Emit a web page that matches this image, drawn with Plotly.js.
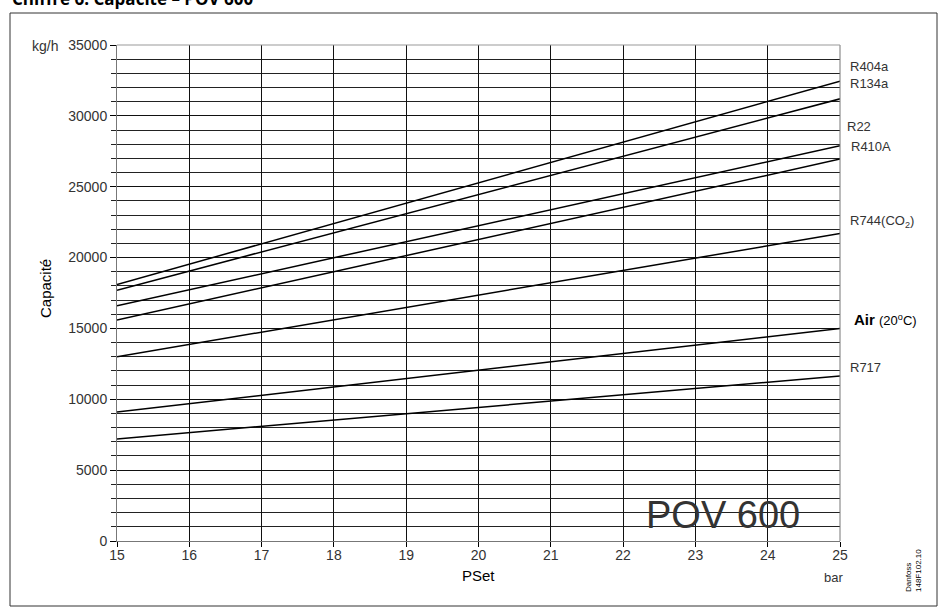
<!DOCTYPE html>
<html>
<head>
<meta charset="utf-8">
<script src="https://cdn.plot.ly/plotly-3.0.1.min.js"></script>
<style>
html,body{margin:0;padding:0;background:#fff;}
#chart{width:938px;height:607px;}
</style>
</head>
<body>
<div id="chart"></div>
<script>
// PSet (bar)
const pset = [15, 25];
// Capacity (kg/h) per refrigerant, read at 15 and 25 bar
const r404a = [18100, 32450];
const r134a = [17700, 31200];
const r22   = [16600, 27900];
const r410a = [15600, 26950];
const r744  = [13000, 21700];
const air   = [9100, 15000];
const r717  = [7200, 11650];

const seriesNames = ['R404a', 'R134a', 'R22', 'R410A', 'R744(CO<sub>2</sub>)', 'Air (20°C)', 'R717'];
const seriesValues = [r404a, r134a, r22, r410a, r744, air, r717];

const xTickVals = [15, 16, 17, 18, 19, 20, 21, 22, 23, 24, 25];
const yTickVals = [0, 5000, 10000, 15000, 20000, 25000, 30000, 35000];

const traces = seriesValues.map((v, i) => ({
  x: pset, y: v, type: 'scatter', mode: 'lines', name: seriesNames[i],
  line: {color: '#000', width: 1.5}, hoverinfo: 'skip'
}));

// pixel -> paper helpers (plot area: x 117..840, y 45..541)
const L = 117, R = 840, T = 45, B = 541;
const px = p => (p - L) / (R - L);
const py = p => (B - p) / (B - T);

const fontBase = 'Liberation Sans, Arial, Helvetica, sans-serif';

const labelDefs = [
  {t: 'R404a', x: 848, y: 66},
  {t: 'R134a', x: 848, y: 83},
  {t: 'R22', x: 845, y: 127},
  {t: 'R410A', x: 849, y: 146},
  {t: 'R744(CO<sub>2</sub>)', x: 848, y: 222},
  {t: '<b>Air</b> <span style="font-size:13px">(20<sup>o</sup>C)</span>', x: 852, y: 319, size: 15, color: '#000'},
  {t: 'R717', x: 848, y: 368}
];

const annotations = labelDefs.map(d => ({
  xref: 'paper', yref: 'paper', x: px(d.x), y: py(d.y),
  xanchor: 'left', yanchor: 'middle', showarrow: false,
  text: d.t, font: {family: fontBase, size: d.size || 13, color: d.color || '#333'}
}));

annotations.push(
  {xref: 'paper', yref: 'paper', x: px(10), y: py(-1), xanchor: 'left', yanchor: 'middle',
   showarrow: false, text: '<b>Chiffre 6. Capacité – POV 600</b>',
   font: {family: 'Open Sans, sans-serif', size: 17, color: '#000'}},
  {xref: 'paper', yref: 'paper', x: px(60), y: py(46), xanchor: 'right', yanchor: 'middle',
   showarrow: false, text: 'kg/h', font: {family: fontBase, size: 14, color: '#333'}},
  {xref: 'paper', yref: 'paper', x: px(45), y: py(289), xanchor: 'center', yanchor: 'middle',
   showarrow: false, text: 'Capacité', textangle: -90, font: {family: fontBase, size: 15, color: '#000'}},
  {xref: 'paper', yref: 'paper', x: px(478), y: py(575), xanchor: 'center', yanchor: 'middle',
   showarrow: false, text: 'PSet', font: {family: fontBase, size: 15, color: '#000'}},
  {xref: 'paper', yref: 'paper', x: px(845), y: py(577), xanchor: 'right', yanchor: 'middle',
   showarrow: false, text: 'bar', font: {family: fontBase, size: 13, color: '#333'}},
  {xref: 'paper', yref: 'paper', x: px(723), y: py(515), xanchor: 'center', yanchor: 'middle',
   showarrow: false, text: 'POV 600', font: {family: fontBase, size: 38, color: '#333'}},
  {xref: 'paper', yref: 'paper', x: px(913), y: py(571), xanchor: 'center', yanchor: 'middle',
   showarrow: false, text: 'Danfoss<br>148F102.10', textangle: -90, align: 'left',
   font: {family: fontBase, size: 8, color: '#000'}}
);

const layout = {
  width: 938, height: 607,
  margin: {l: L, r: 938 - R, t: T, b: 607 - B, pad: 0},
  paper_bgcolor: '#fff', plot_bgcolor: '#fff',
  showlegend: false,
  xaxis: {
    range: [15, 25], tickvals: xTickVals, ticktext: xTickVals.map(String),
    showgrid: true, gridcolor: '#111', gridwidth: 1,
    ticks: 'outside', ticklen: 5, tickcolor: '#000', tickwidth: 1,
    ticklabelstandoff: -4,
    showline: true, linecolor: '#777', linewidth: 1, mirror: false,
    zeroline: false, fixedrange: true,
    tickfont: {family: fontBase, size: 14, color: '#333'}
  },
  yaxis: {
    range: [0, 35000], tickvals: yTickVals, ticktext: yTickVals.map(String),
    showgrid: true, gridcolor: '#111', gridwidth: 1,
    ticks: 'outside', ticklen: 6, tickcolor: '#000', tickwidth: 1,
    minor: {dtick: 1000, showgrid: true, gridcolor: '#222', gridwidth: 1, ticks: 'outside', ticklen: 5, tickcolor: '#222'},
    showline: true, linecolor: '#777', linewidth: 1,
    zeroline: false, fixedrange: true,
    tickfont: {family: fontBase, size: 14, color: '#333'}
  },
  shapes: [
    {type: 'line', xref: 'paper', yref: 'paper', x0: 1, x1: 1, y0: 0, y1: 1, line: {color: '#777', width: 1}},
    {type: 'line', xref: 'paper', yref: 'paper', x0: 0, x1: 1, y0: 1, y1: 1, line: {color: '#999', width: 1}},
    {type: 'rect', xref: 'paper', yref: 'paper', x0: px(10), x1: px(937), y0: py(606), y1: py(13), line: {color: '#333', width: 1}, fillcolor: 'rgba(0,0,0,0)', layer: 'below'}
  ],
  annotations: annotations
};

Plotly.newPlot('chart', traces, layout, {displayModeBar: false, staticPlot: true});
</script>
</body>
</html>
